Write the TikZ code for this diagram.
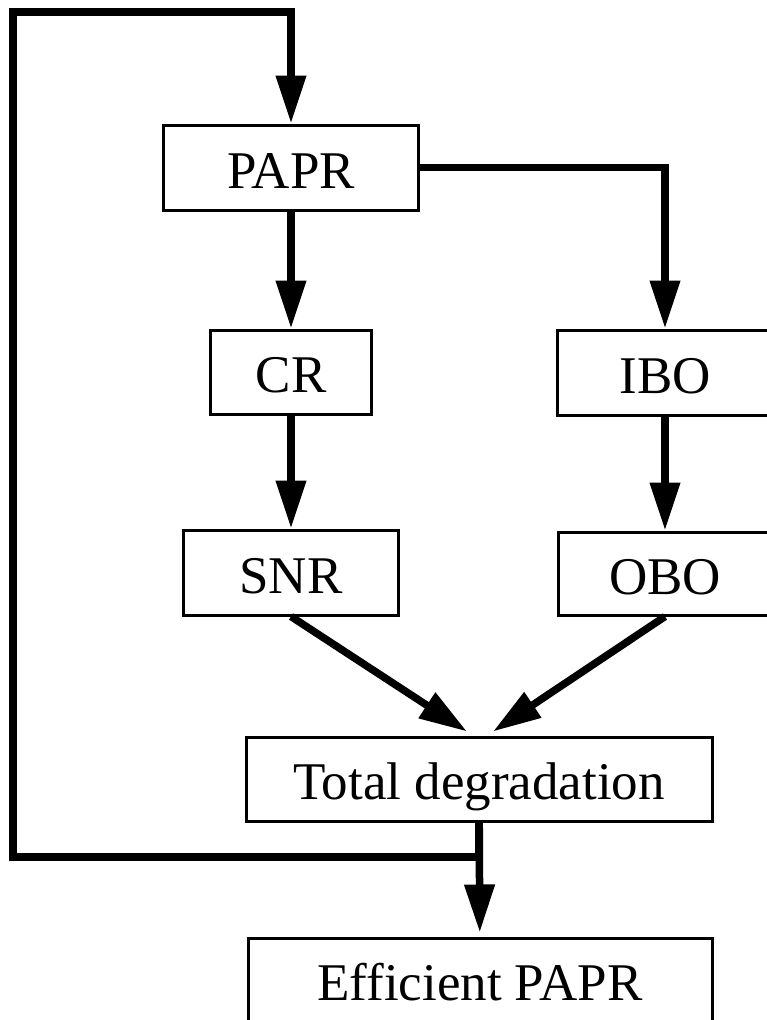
\documentclass[tikz,border=0pt]{standalone}
\usepackage{fontspec}
\setmainfont{Liberation Serif}
\usetikzlibrary{arrows.meta}
\begin{document}
\begin{tikzpicture}[x=1pt,y=-1pt,
  blockbox/.style={draw,line width=3pt,rectangle,inner sep=0pt,
    font=\fontsize{53}{60}\selectfont,text height=41pt,text depth=0pt},
  arr/.style={line width=7.5pt,-{Triangle[length=48pt,width=29pt]}}]
\useasboundingbox (0,0) rectangle (767,1020);
\node[blockbox,minimum width=255pt,minimum height=85pt] (papr) at (291,167.5) {PAPR};
\node[blockbox,minimum width=161pt,minimum height=84pt] (cr) at (291,372) {CR};
\node[blockbox,minimum width=216pt,minimum height=85pt] (ibo) at (665,372.5) {IBO};
\node[blockbox,minimum width=215pt,minimum height=85pt] (snr) at (291,572.5) {SNR};
\node[blockbox,minimum width=214pt,minimum height=83pt] (obo) at (665,573.5) {OBO};
\node[blockbox,minimum width=466pt,minimum height=84pt] (tot) at (479,779) {Total degradation};
\node[blockbox,minimum width=464pt,minimum height=84pt] (eff) at (480,980) {Efficient PAPR};
\coordinate (lb) at (13,857);
\coordinate (lt) at (13,12);
\draw[arr] (papr) -- (cr);
\draw[arr] (papr.east) -| (ibo.north);
\draw[arr] (cr) -- (snr);
\draw[arr] (ibo) -- (obo);
\draw[arr] (snr.south) -- ([xshift=-12pt,yshift=4pt]tot.north);
\draw[arr] (obo.south) -- ([xshift=14pt,yshift=4pt]tot.north);
\draw[arr,shorten >=4pt] (tot) -- (eff);
\draw[arr] (tot.south) |- (lb) -- (lt) -| (papr.north);
\end{tikzpicture}
\end{document}
